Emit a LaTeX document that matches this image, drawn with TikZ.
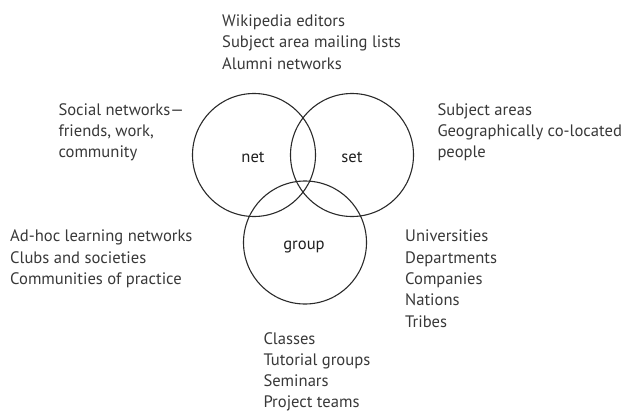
\documentclass[tikz,border=0pt]{standalone}
\usepackage{fontspec}
\setmainfont{PT Sans}
\definecolor{txt}{HTML}{383838}
\definecolor{ring}{HTML}{2A2A2A}
\begin{document}
\begin{tikzpicture}[x=1pt,y=-1pt,
  lbl/.style={anchor=base west,inner sep=0pt,text=txt,font=\fontsize{16.6}{20}\selectfont},
  ctr/.style={anchor=base,inner sep=0pt,text=black!88,font=\fontsize{16.6}{20}\selectfont},
  venn/.style={draw=ring,line width=1.1pt,circle,minimum size=123pt,inner sep=0pt}]
\useasboundingbox (0,0) rectangle (627,410);
% circles
\node[venn] (cnet) at (254,155) {};
\node[venn] (cset) at (352,155) {};
\node[venn] (cgrp) at (305,242.5) {};
% circle labels
\node[ctr] (lnet) at (253,162.5) {net};
\node[ctr] (lset) at (352,162.5) {set};
\node[ctr] (lgrp) at (304,249) {group};
% top block
\node[lbl] (t1) at (222,26.5) {Wikipedia editors};
\node[lbl] (t2) at (222,47.8) {Subject area mailing lists};
\node[lbl] (t3) at (222,69.1) {Alumni networks};
% left top
\node[lbl] (a1) at (58.3,115) {Social networks—};
\node[lbl] (a2) at (58.3,136) {friends, work,};
\node[lbl] (a3) at (58.3,157) {community};
% right top
\node[lbl] (b1) at (437.3,115) {Subject areas};
\node[lbl] (b2) at (437.3,136) {Geographically co-located};
\node[lbl] (b3) at (437.3,157) {people};
% left bottom
\node[lbl] (c1) at (10,241.7) {Ad-hoc learning networks};
\node[lbl] (c2) at (10,263) {Clubs and societies};
\node[lbl] (c3) at (10,284.3) {Communities of practice};
% right bottom
\node[lbl] (d1) at (405,241.7) {Universities};
\node[lbl] (d2) at (405,263) {Departments};
\node[lbl] (d3) at (405,284.4) {Companies};
\node[lbl] (d4) at (405,305.6) {Nations};
\node[lbl] (d5) at (405,327) {Tribes};
% bottom
\node[lbl] (e1) at (263.3,344) {Classes};
\node[lbl] (e2) at (263.3,365.2) {Tutorial groups};
\node[lbl] (e3) at (263.3,386.4) {Seminars};
\node[lbl] (e4) at (263.3,407.6) {Project teams};
\end{tikzpicture}
\end{document}
